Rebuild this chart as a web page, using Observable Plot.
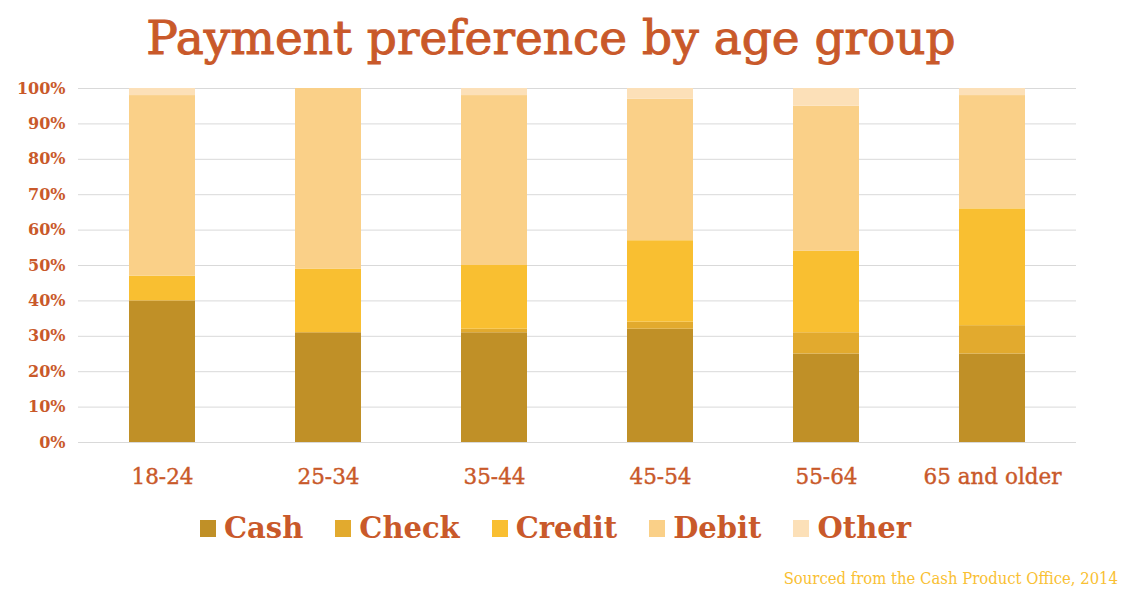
<!DOCTYPE html>
<html>
<head>
<meta charset="utf-8">
<script src="https://cdn.jsdelivr.net/npm/d3@7"></script>
<script src="https://cdn.jsdelivr.net/npm/@observablehq/plot@0.6"></script>
<style>
  html, body { margin: 0; padding: 0; background: #fff; }
  #wrap { position: relative; width: 1128px; height: 613px; overflow: hidden; font-family: "DejaVu Serif", serif; }
  #title { position: absolute; left: 0; top: 8px; width: 1102px; text-align: center; color: #C9592A; font-size: 47px; line-height: 60px; white-space: nowrap; -webkit-text-stroke: 1px #C9592A; }
  #chart { position: absolute; left: 0; top: 78px; }
  #legend { position: absolute; left: 200px; top: 511px; display: flex; align-items: center; color: #C9592A; font-weight: bold; font-size: 29px; white-space: nowrap; }
  .item { display: flex; align-items: center; margin-right: 32px; }
  .sw { width: 16px; height: 17px; margin-right: 8px; }
  #caption { position: absolute; right: 10px; top: 569px; color: #F9C032; font-size: 16.5px; white-space: nowrap; font-family: "DejaVu Serif Condensed", "DejaVu Serif", serif; font-stretch: condensed; }
  #chart svg g[aria-label="x-axis tick label"] text { stroke: #C9592A; stroke-width: 0.4px; }
</style>
</head>
<body>
<div id="wrap">
  <div id="title">Payment preference by age group</div>
  <div id="chart"></div>
  <div id="legend"></div>
  <div id="caption">Sourced from the Cash Product Office, 2014</div>
</div>
<script>
const ages = ["18-24", "25-34", "35-44", "45-54", "55-64", "65 and older"];
const methods = ["Cash", "Check", "Credit", "Debit", "Other"];
const cash   = [40, 31, 31, 32, 25, 25];
const check  = [0, 0, 1, 2, 6, 8];
const credit = [7, 18, 18, 23, 23, 33];
const debit  = [51, 51, 48, 40, 41, 32];
const other  = [2, 0, 2, 3, 5, 2];
const colors = ["#C09027", "#E2AA2E", "#F9BF31", "#FAD088", "#FCE0B8"];
const yTicks = [0, 10, 20, 30, 40, 50, 60, 70, 80, 90, 100];

const series = [cash, check, credit, debit, other];
const data = [];
methods.forEach((m, i) => ages.forEach((a, j) => data.push({age: a, method: m, value: series[i][j]})));

const orange = "#C9592A";
const plot = Plot.plot({
  width: 1128,
  height: 419,
  marginLeft: 78,
  marginRight: 52,
  marginTop: 10,
  marginBottom: 55,
  style: {fontFamily: "DejaVu Serif", background: "transparent"},
  x: {domain: ages, paddingInner: 0.6, paddingOuter: 0.3, label: null},
  y: {domain: [0, 100], label: null},
  color: {domain: methods, range: colors},
  marks: [
    Plot.ruleY(yTicks, {stroke: "#d9d9d9", strokeWidth: 1}),
    Plot.barY(data, {x: "age", y: "value", fill: "method"}),
    Plot.axisY(yTicks, {tickSize: 0, tickPadding: 13, tickFormat: d => d + "%", fontSize: 16, fontWeight: "bold", fill: orange, label: null}),
    Plot.axisX({tickSize: 0, tickPadding: 26, fontSize: 21.5, fill: orange, label: null})
  ]
});
document.getElementById("chart").appendChild(plot);

const legend = document.getElementById("legend");
methods.forEach((m, i) => {
  const it = document.createElement("div");
  it.className = "item";
  const sw = document.createElement("div");
  sw.className = "sw";
  sw.style.background = colors[i];
  const tx = document.createElement("span");
  tx.textContent = m;
  it.appendChild(sw);
  it.appendChild(tx);
  legend.appendChild(it);
});
</script>
</body>
</html>
